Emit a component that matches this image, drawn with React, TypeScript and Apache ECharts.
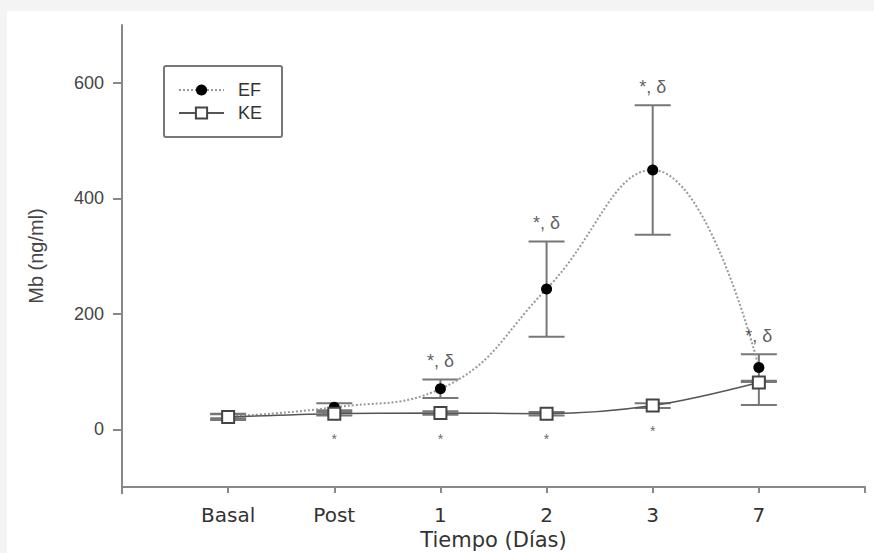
import React, { useEffect, useRef } from 'react';
import * as echarts from 'echarts';

const categories = ['Basal', 'Post', '1', '2', '3', '7'];
const xPositions = [0, 1, 2, 3, 4, 5];
const yTickValues = [0, 200, 400, 600];

const efMean = [22, 38, 70, 243, 449, 107];
const efLow = [19, 33, 54, 160, 337, 84];
const efHigh = [26, 45, 86, 325, 561, 130];

const keMean = [21, 27, 28, 27, 41, 81];
const keLow = [16, 24, 25, 24, 37, 42];
const keHigh = [27, 30, 31, 30, 45, 82];

const efMarks = ['', '', '*, δ', '*, δ', '*, δ', '*, δ'];
const keMarks = ['', '*', '*', '*', '*', ''];

const AXIS = '#888';

function errorSeries(name: string, low: number[], high: number[], z: number) {
  return {
    name,
    type: 'custom',
    z,
    silent: true,
    encode: { x: 0, y: [1, 2] },
    data: xPositions.map((x, i) => [x, low[i], high[i]]),
    renderItem: (params: any, api: any) => {
      const x = api.value(0);
      const pLo = api.coord([x, api.value(1)]);
      const pHi = api.coord([x, api.value(2)]);
      const hw = 18;
      const style = { stroke: '#777', lineWidth: 2 };
      return {
        type: 'group',
        children: [
          { type: 'line', shape: { x1: pLo[0], y1: pLo[1], x2: pHi[0], y2: pHi[1] }, style },
          { type: 'line', shape: { x1: pHi[0] - hw, y1: pHi[1], x2: pHi[0] + hw, y2: pHi[1] }, style },
          { type: 'line', shape: { x1: pLo[0] - hw, y1: pLo[1], x2: pLo[0] + hw, y2: pLo[1] }, style },
        ],
      };
    },
  };
}

export default function App() {
  const ref = useRef<HTMLDivElement>(null);
  useEffect(() => {
    const chart = echarts.init(ref.current!, null, { renderer: 'svg' });
    chart.setOption({
      animation: false,
      backgroundColor: 'transparent',
      grid: { left: 122, right: 9, top: 25, bottom: 66, containLabel: false, outerBoundsMode: 'none' },
      legend: {
        data: ['EF', 'KE'],
        orient: 'vertical',
        left: 164,
        top: 66,
        padding: [15, 20, 15, 14],
        borderColor: '#777',
        borderWidth: 2,
        borderRadius: 2,
        itemWidth: 45,
        itemHeight: 14,
        itemGap: 5,
        textStyle: { fontFamily: 'Liberation Sans', fontSize: 18, color: '#333', padding: [0, 0, 0, 9] },
      },
      xAxis: {
        type: 'value',
        min: -1,
        max: 6,
        interval: 1,
        axisLine: { onZero: false, lineStyle: { color: AXIS, width: 2 } },
        axisTick: { show: true, customValues: [0, 1, 2, 3, 4, 5, 6], length: 6, lineStyle: { color: AXIS, width: 2 } },
        axisLabel: {
          customValues: xPositions,
          formatter: (v: number) => categories[v] ?? '',
          fontFamily: 'DejaVu Sans',
          fontSize: 20,
          color: '#333',
          margin: 18,
        },
        splitLine: { show: false },
        name: 'Tiempo (Días)',
        nameLocation: 'middle',
        nameGap: 42,
        nameTextStyle: { fontFamily: 'DejaVu Sans', fontSize: 21, color: '#333' },
      },
      yAxis: {
        type: 'value',
        min: -100,
        max: 700,
        axisLine: { show: true, onZero: false, lineStyle: { color: AXIS, width: 2 } },
        axisTick: { show: true, customValues: yTickValues, length: 9, lineStyle: { color: AXIS, width: 2 } },
        axisLabel: {
          customValues: yTickValues,
          fontFamily: 'Liberation Sans',
          fontSize: 18,
          color: '#444',
          margin: 18,
        },
        splitLine: { show: false },
        name: 'Mb (ng/ml)',
        nameLocation: 'middle',
        nameGap: 76,
        nameRotate: 90,
        nameTextStyle: { fontFamily: 'Liberation Sans', fontSize: 20, color: '#444' },
      },
      graphic: [
        { type: 'line', shape: { x1: 122, y1: 487, x2: 122, y2: 494 }, style: { stroke: AXIS, lineWidth: 2 } },
      ],
      series: [
        errorSeries('EF err', efLow, efHigh, 1),
        errorSeries('KE err', keLow, keHigh, 1),
        {
          name: 'EF',
          type: 'line',
          z: 3,
          smooth: 0.45,
          data: xPositions.map((x, i) => [x, efMean[i]]),
          symbol: 'circle',
          symbolSize: 11,
          itemStyle: { color: '#000' },
          lineStyle: { color: '#999', width: 2, type: 'dotted' },
        },
        {
          name: 'KE',
          type: 'line',
          z: 4,
          smooth: 0.35,
          data: xPositions.map((x, i) => [x, keMean[i]]),
          symbol: 'rect',
          symbolSize: 12,
          itemStyle: { color: '#fff', borderColor: '#444', borderWidth: 2 },
          lineStyle: { color: '#555', width: 1.5 },
        },
        {
          name: 'EF marks',
          type: 'scatter',
          silent: true,
          z: 5,
          symbolSize: 1,
          itemStyle: { color: 'rgba(0,0,0,0)' },
          data: xPositions.map((x, i) => [x, efHigh[i]]),
          label: {
            show: true,
            position: 'top',
            distance: 9,
            formatter: (p: any) => efMarks[p.dataIndex],
            fontFamily: 'Liberation Sans',
            fontSize: 18,
            color: '#333',
          },
        },
        {
          name: 'KE marks',
          type: 'scatter',
          silent: true,
          z: 5,
          symbolSize: 1,
          itemStyle: { color: 'rgba(0,0,0,0)' },
          data: xPositions.map((x, i) => [x, keMean[i]]),
          label: {
            show: true,
            position: 'bottom',
            distance: 18,
            formatter: (p: any) => keMarks[p.dataIndex],
            fontFamily: 'Liberation Sans',
            fontSize: 14,
            color: '#444',
          },
        },
      ],
    });
    return () => chart.dispose();
  }, []);
  return (
    <div style={{ position: 'fixed', left: 0, top: 0, width: 874, height: 553, background: '#f4f4f4' }}>
      <div style={{ position: 'absolute', left: 7, top: 11, right: 0, bottom: 0, background: '#fff' }} />
      <div ref={ref} style={{ position: 'absolute', left: 0, top: 0, width: 874, height: 553 }} />
    </div>
  );
}
